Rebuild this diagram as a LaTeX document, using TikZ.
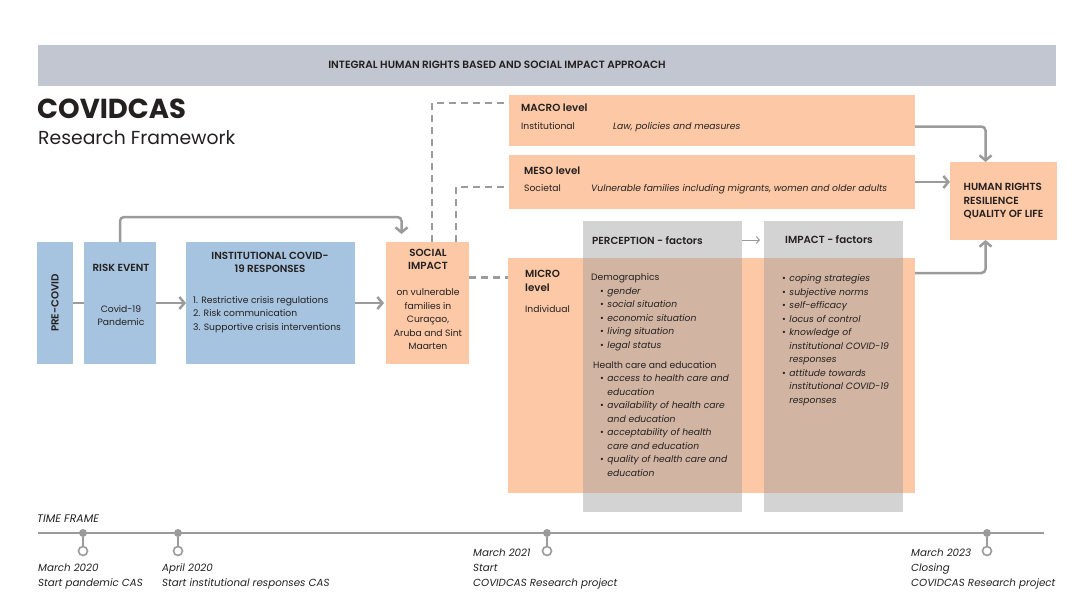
\documentclass[tikz,border=0pt]{standalone}
\usepackage{fontspec}
\setmainfont{Poppins}[BoldFont={Poppins SemiBold}, BoldItalicFont={Poppins SemiBold Italic}]
\newfontfamily\titlefont{Poppins}
\usetikzlibrary{positioning, arrows.meta, calc}

\definecolor{peach}{HTML}{FCC8A6}
\definecolor{steel}{HTML}{A6C4DF}
\definecolor{band}{HTML}{C1C6D0}
\definecolor{shade}{HTML}{9E9E9E}
\definecolor{wire}{HTML}{9B9B9B}
\definecolor{ink}{HTML}{242020}

\newcommand{\itm}[1]{\hspace*{9pt}\textbullet\hspace{3.5pt}\textit{#1}}
\newcommand{\cnt}[1]{\hspace*{9pt}\phantom{\textbullet}\hspace{3.5pt}\textit{#1}}

\begin{document}
\begin{tikzpicture}[x=1pt, y=-1pt,
        % Define styles for the framework boxes and texts
        box/.style={inner sep=0pt, outer sep=0pt, anchor=north west},
        bluebox/.style={box, fill=steel, minimum height=122pt},
        peachbox/.style={box, fill=peach},
        factorbox/.style={box, fill=shade, fill opacity=0.45, minimum height=291pt},
        txt/.style={inner sep=0pt, anchor=base west, text=ink, align=left, font=\fontsize{9.2}{13.5}\selectfont},
        head/.style={txt, font=\fontsize{10.3}{13.5}\selectfont\bfseries},
        date/.style={txt, font=\fontsize{10.3}{15}\selectfont\itshape},
        flow/.style={draw=wire, line width=2.5pt, rounded corners=4pt, -{Straight Barb[length=5pt, width=12pt]}},
        link/.style={draw=wire, line width=2.5pt, dash pattern=on 7pt off 5pt},
        dot/.style={circle, fill=wire, inner sep=0pt, minimum size=8pt},
        ring/.style={circle, draw=wire, fill=white, line width=1.6pt, inner sep=0pt, minimum size=9pt}
    ]
    \useasboundingbox (0,0) rectangle (1080,608);

    % --- BANNER & TITLE ---
    \node[box, fill=band, minimum width=1018pt, minimum height=41pt] (band) at (38,45) {};
    \node[head, anchor=center, font=\fontsize{10.5}{12}\selectfont\bfseries] (approach) at (497,65) {INTEGRAL HUMAN RIGHTS BASED AND SOCIAL IMPACT APPROACH};
    \node[txt, font=\fontsize{27.5}{30}\titlefont\bfseries] (title) at (37,118) {COVIDCAS};
    \node[txt, font=\fontsize{18.8}{20}\selectfont] (subtitle) at (38,144) {Research Framework};

    % --- TIMELINE OF THE CRISIS ---
    \node[bluebox, minimum width=36pt] (precovid) at (37,242) {};
    \node[bluebox, minimum width=72pt, right=11pt of precovid] (risk) {};
    \node[bluebox, minimum width=169pt, right=30pt of risk] (inst) {};
    \node[peachbox, minimum width=83pt, minimum height=122pt, right=31pt of inst] (social) {};

    \node[head, anchor=center, rotate=90] (precovidtxt) at (precovid.center) {PRE-COVID};
    \node[head, anchor=base] (risktxt) at (121,271) {RISK EVENT};
    \node[txt, anchor=base, align=center] (pandemic) at (121,325.5) {Covid-19\\Pandemic};
    \node[head, anchor=base, align=center] (insttxt) at (270,272.5) {INSTITUTIONAL COVID-\\19 RESPONSES};
    \node[txt] (measures) at (193,330) {1. Restrictive crisis regulations\\2. Risk communication\\3. Supportive crisis interventions};
    \node[head, anchor=base, align=center] (socialtxt) at (428,269.5) {SOCIAL\\IMPACT};
    \node[txt, anchor=base, align=center] (families) at (428,349.5) {on vulnerable\\families in\\Cura\c{c}ao,\\Aruba and Sint\\Maarten};

    % --- LEVELS ---
    \node[peachbox, minimum width=406pt, minimum height=51pt] (macro) at (509,95) {};
    \node[peachbox, minimum width=406pt, minimum height=54pt] (meso) at (509,155) {};
    \node[peachbox, minimum width=407pt, minimum height=235pt] (micro) at (508,258) {};

    \node[head] (macrotxt) at (521,111) {MACRO level};
    \node[txt] (institutional) at (521,129) {Institutional};
    \node[txt, font=\fontsize{9.2}{13.5}\selectfont\itshape] (law) at (613,129) {Law, policies and measures};
    \node[head] (mesotxt) at (524,174) {MESO level};
    \node[txt] (societal) at (524,191) {Societal};
    \node[txt, font=\fontsize{9.2}{13.5}\selectfont\itshape] (vulnerable) at (591,191) {Vulnerable families including migrants, women and older adults};
    \node[head, font=\fontsize{10.3}{14}\selectfont\bfseries] (microtxt) at (525,291) {MICRO\\level};
    \node[txt] (individual) at (525,312) {Individual};

    % --- FACTORS ---
    \node[factorbox, minimum width=159pt] (perc) at (583,221) {};
    \node[factorbox, minimum width=139pt] (imp) at (764,221) {};
    \node[head] (perctxt) at (592,244) {PERCEPTION - factors};
    \node[head] (imptxt) at (785,243) {IMPACT - factors};

    \node[txt] (demo) at (591,476) {Demographics\\
        \itm{gender}\\
        \itm{social situation}\\
        \itm{economic situation}\\
        \itm{living situation}\\
        \itm{legal status}\\[6.5pt]
        \hspace*{2pt}Health care and education\\
        \itm{access to health care and}\\
        \cnt{education}\\
        \itm{availability of health care}\\
        \cnt{and education}\\
        \itm{acceptability of health}\\
        \cnt{care and education}\\
        \itm{quality of health care and}\\
        \cnt{education}};
    \node[txt] (coping) at (773,403) {\itm{coping strategies}\\
        \itm{subjective norms}\\
        \itm{self-efficacy}\\
        \itm{locus of control}\\
        \itm{knowledge of}\\
        \cnt{institutional COVID-19}\\
        \cnt{responses}\\
        \itm{attitude towards}\\
        \cnt{institutional COVID-19}\\
        \cnt{responses}};

    % --- OUTCOME ---
    \node[peachbox, minimum width=107pt, minimum height=78pt, align=left, text=ink, font=\fontsize{10.3}{13.5}\selectfont\bfseries] (human) at (950,162) {HUMAN RIGHTS\\RESILIENCE\\QUALITY OF LIFE};

    % --- CONNECTIONS ---
    \draw[draw=wire, line width=2.5pt] (precovid) -- (risk);
    \draw[flow] (risk) -- (inst);
    \draw[flow, shorten >=2pt] (inst) -- (social);
    \draw[flow] (risk.north) -- ++(0,-25) -| ([xshift=-26pt, yshift=8pt]social.north);

    \draw[link] ([xshift=4.5pt]social.north) |- ([yshift=17.5pt]macro.west);
    \draw[link] ([xshift=28.5pt]social.north) |- ([yshift=-5pt]meso.west);
    \coordinate (sm) at ([yshift=25.5pt]social.east);
    \draw[link] (sm) -- (sm -| micro.west);

    \draw[flow] ([yshift=-6pt]macro.east) -| ([xshift=-18pt]human.north);
    \draw[flow] (meso.east) -- (meso.east -| human.west);
    \draw[flow] ([yshift=-15pt]micro.north east) -| ([xshift=-18pt]human.south);
    \draw[draw=wire, line width=1pt, -{Straight Barb[length=3pt, width=7pt]}, shorten >=4pt] (perc.north east |- perctxt) -- (imp.north west |- perctxt);

    % --- TIME FRAME ---
    \node[date, font=\fontsize{11}{15}\selectfont\itshape] (frame) at (37,522) {TIME FRAME};
    \coordinate (t0) at (38,533);
    \coordinate (t1) at (1044,533);
    \draw[draw=wire, line width=2pt] (t0) -- (t1);
    \foreach \x/\nm in {83/a, 178/b, 547/c, 987/d} {
        \node[dot] (m\nm) at (\x,533) {};
        \node[ring] (r\nm) at (\x,551) {};
        \draw[draw=wire, line width=2pt] (m\nm) -- (r\nm);
    }
    \node[date] (march20) at (38,586) {March 2020\\Start pandemic CAS};
    \node[date] (april20) at (162,586) {April 2020\\Start institutional responses CAS};
    \node[date] (march21) at (473,586) {March 2021\\Start\\COVIDCAS Research project};
    \node[date] (march23) at (911,586) {March 2023\\Closing\\COVIDCAS Research project};

\end{tikzpicture}
\end{document}
